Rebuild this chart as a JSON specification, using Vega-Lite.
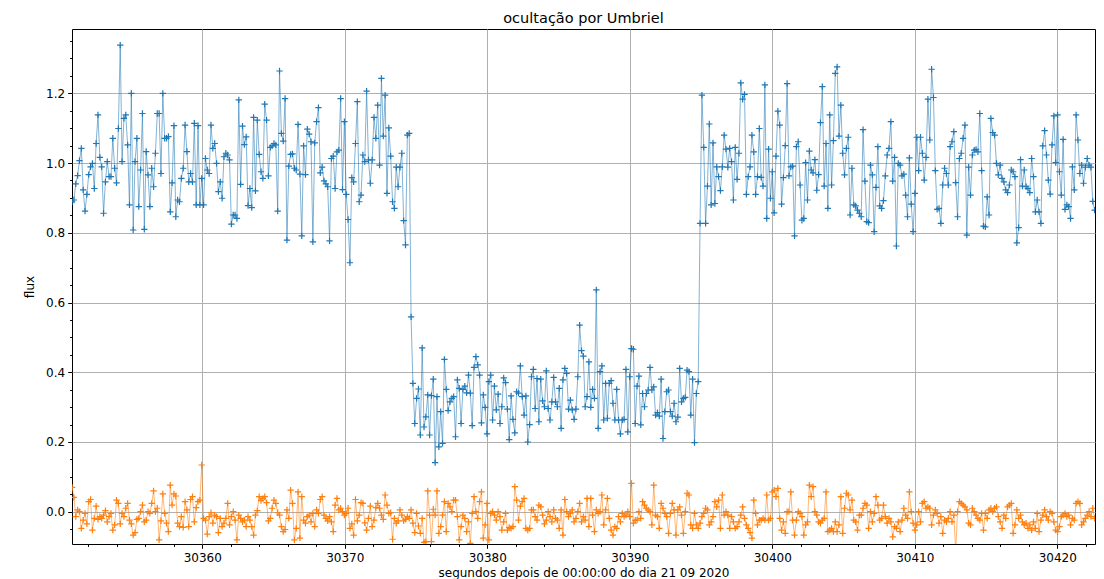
{
  "$schema": "https://vega.github.io/schema/vega-lite/v6.json",
  "width": 1023,
  "height": 515,
  "autosize": {"type": "none"},
  "padding": {"left": 72, "top": 29, "right": 9, "bottom": 35},
  "background": "#ffffff",
  "title": {"text": "ocultação por Umbriel", "font": "DejaVu Sans", "fontSize": 14.5, "fontWeight": "normal", "color": "#000000", "offset": 3, "anchor": "middle"},
  "config": {
    "view": {"stroke": "#000000", "strokeWidth": 1},
    "axis": {"labelFont": "DejaVu Sans", "titleFont": "DejaVu Sans", "labelFontSize": 12, "titleFontSize": 12, "labelColor": "#000000", "titleColor": "#000000", "titleFontWeight": "normal", "tickColor": "#000000", "tickWidth": 1, "domain": false, "gridColor": "#b0b0b0", "gridWidth": 1, "gridOpacity": 1}
  },
  "data": {"values": [
    {"t":30350.86,"b":0.889,"o":0.07},{"t":30350.99,"b":0.894,"o":0.041},{"t":30351.12,"b":0.94,"o":-0.014},{"t":30351.25,"b":0.964,"o":0.005},{"t":30351.38,"b":1.007,"o":0},{"t":30351.51,"b":1.042,"o":-0.048},{"t":30351.64,"b":0.923,"o":-0.024},{"t":30351.77,"b":0.862,"o":-0.005},{"t":30351.90,"b":0.91,"o":-0.035},{"t":30352.03,"b":0.967,"o":0.029},
    {"t":30352.16,"b":0.989,"o":0.035},{"t":30352.29,"b":0.999,"o":-0.053},{"t":30352.42,"b":0.927,"o":-0.019},{"t":30352.55,"b":1.056,"o":0.016},{"t":30352.68,"b":1.138,"o":-0.022},{"t":30352.81,"b":1.016,"o":-0.014},{"t":30352.94,"b":0.989,"o":-0.019},{"t":30353.07,"b":0.856,"o":-0.01},{"t":30353.20,"b":0.946,"o":0.003},{"t":30353.33,"b":1.004,"o":-0.029},
    {"t":30353.46,"b":0.961,"o":-0.014},{"t":30353.59,"b":0.961,"o":-0.005},{"t":30353.72,"b":1.071,"o":-0.053},{"t":30353.85,"b":0.985,"o":-0.038},{"t":30353.98,"b":0.943,"o":0.033},{"t":30354.11,"b":1.099,"o":0.024},{"t":30354.24,"b":1.338,"o":-0.035},{"t":30354.37,"b":1.004,"o":-0.005},{"t":30354.50,"b":1.128,"o":-0.014},{"t":30354.63,"b":1.138,"o":0.01},
    {"t":30354.76,"b":1.052,"o":0.024},{"t":30354.89,"b":0.88,"o":-0.024},{"t":30355.02,"b":1.2,"o":-0.035},{"t":30355.15,"b":0.808,"o":-0.067},{"t":30355.28,"b":1.004,"o":-0.06},{"t":30355.41,"b":1.071,"o":-0.022},{"t":30355.54,"b":0.875,"o":-0.019},{"t":30355.67,"b":0.98,"o":0},{"t":30355.80,"b":1.142,"o":0.019},{"t":30355.93,"b":0.81,"o":-0.029},
    {"t":30356.06,"b":1.033,"o":-0.024},{"t":30356.19,"b":0.966,"o":0},{"t":30356.32,"b":0.875,"o":-0.005},{"t":30356.45,"b":0.985,"o":0.024},{"t":30356.58,"b":0.932,"o":0.06},{"t":30356.71,"b":1.028,"o":0},{"t":30356.84,"b":1.142,"o":0.01},{"t":30356.97,"b":1.142,"o":-0.081},{"t":30357.10,"b":0.97,"o":-0.026},{"t":30357.23,"b":1.2,"o":0.051},
    {"t":30357.36,"b":1.071,"o":-0.005},{"t":30357.49,"b":1.071,"o":-0.033},{"t":30357.62,"b":1.076,"o":-0.057},{"t":30357.75,"b":0.86,"o":0.076},{"t":30357.88,"b":0.943,"o":0.019},{"t":30358.01,"b":1.107,"o":0.051},{"t":30358.14,"b":0.846,"o":0.045},{"t":30358.27,"b":0.894,"o":-0.033},{"t":30358.40,"b":0.889,"o":-0.043},{"t":30358.53,"b":0.956,"o":-0.014},
    {"t":30358.66,"b":0.985,"o":-0.045},{"t":30358.79,"b":1.109,"o":0.029},{"t":30358.92,"b":1.033,"o":0.005},{"t":30359.05,"b":0.946,"o":-0.043},{"t":30359.18,"b":0.97,"o":0.035},{"t":30359.31,"b":0.946,"o":0.043},{"t":30359.44,"b":1.114,"o":-0.029},{"t":30359.57,"b":0.88,"o":0.012},{"t":30359.70,"b":1.107,"o":0.029},{"t":30359.83,"b":0.88,"o":0.033},
    {"t":30359.96,"b":0.956,"o":0.134},{"t":30360.09,"b":0.88,"o":-0.019},{"t":30360.22,"b":1.013,"o":-0.024},{"t":30360.35,"b":0.98,"o":-0.064},{"t":30360.48,"b":0.97,"o":-0.014},{"t":30360.61,"b":1.109,"o":-0.003},{"t":30360.74,"b":1.042,"o":-0.033},{"t":30360.87,"b":1.056,"o":-0.01},{"t":30361.00,"b":0.999,"o":-0.014},{"t":30361.13,"b":0.918,"o":-0.06},
    {"t":30361.26,"b":0.946,"o":-0.019},{"t":30361.39,"b":0.899,"o":-0.043},{"t":30361.52,"b":1.018,"o":-0.033},{"t":30361.65,"b":1.028,"o":-0.019},{"t":30361.78,"b":1.023,"o":0.024},{"t":30361.91,"b":1.009,"o":-0.038},{"t":30362.04,"b":0.825,"o":-0.014},{"t":30362.17,"b":0.851,"o":0},{"t":30362.30,"b":0.851,"o":-0.024},{"t":30362.43,"b":0.841,"o":-0.081},
    {"t":30362.56,"b":1.181,"o":-0.01},{"t":30362.69,"b":0.939,"o":-0.019},{"t":30362.82,"b":1.106,"o":-0.029},{"t":30362.95,"b":1.053,"o":-0.024},{"t":30363.08,"b":1.075,"o":-0.043},{"t":30363.21,"b":0.878,"o":-0.014},{"t":30363.34,"b":0.927,"o":-0.024},{"t":30363.47,"b":0.872,"o":-0.043},{"t":30363.60,"b":1.131,"o":-0.067},{"t":30363.73,"b":0.92,"o":-0.01},
    {"t":30363.86,"b":1.123,"o":0.003},{"t":30363.99,"b":1.025,"o":0.043},{"t":30364.12,"b":0.975,"o":0.032},{"t":30364.25,"b":0.956,"o":0.038},{"t":30364.38,"b":1.169,"o":0.043},{"t":30364.51,"b":1.123,"o":0.026},{"t":30364.64,"b":0.963,"o":-0.026},{"t":30364.77,"b":1.045,"o":-0.019},{"t":30364.90,"b":1.049,"o":0.01},{"t":30365.03,"b":1.056,"o":0.033},
    {"t":30365.16,"b":1.052,"o":0.024},{"t":30365.29,"b":0.862,"o":-0.003},{"t":30365.42,"b":1.264,"o":-0.01},{"t":30365.55,"b":1.085,"o":-0.043},{"t":30365.68,"b":1.063,"o":-0.057},{"t":30365.81,"b":1.185,"o":-0.051},{"t":30365.94,"b":0.779,"o":0.005},{"t":30366.07,"b":0.991,"o":-0.019},{"t":30366.20,"b":1.025,"o":0.062},{"t":30366.33,"b":1.026,"o":0.024},
    {"t":30366.46,"b":0.985,"o":-0.081},{"t":30366.59,"b":0.98,"o":-0.048},{"t":30366.72,"b":1.111,"o":0.057},{"t":30366.85,"b":0.968,"o":-0.076},{"t":30366.98,"b":0.791,"o":0.043},{"t":30367.11,"b":1.049,"o":-0.024},{"t":30367.24,"b":0.967,"o":-0.033},{"t":30367.37,"b":1.097,"o":-0.014},{"t":30367.50,"b":1.083,"o":-0.01},{"t":30367.63,"b":1.061,"o":-0.029},
    {"t":30367.76,"b":0.774,"o":-0.005},{"t":30367.89,"b":1.058,"o":-0.043},{"t":30368.02,"b":1.119,"o":0.005},{"t":30368.15,"b":1.159,"o":-0.005},{"t":30368.28,"b":0.972,"o":0.035},{"t":30368.41,"b":0.988,"o":0.043},{"t":30368.54,"b":0.949,"o":-0.01},{"t":30368.67,"b":0.94,"o":-0.019},{"t":30368.80,"b":0.932,"o":-0.026},{"t":30368.93,"b":0.777,"o":-0.014},
    {"t":30369.06,"b":1.013,"o":-0.029},{"t":30369.19,"b":1.02,"o":-0.057},{"t":30369.32,"b":0.927,"o":0.019},{"t":30369.45,"b":1.032,"o":0.038},{"t":30369.58,"b":1.037,"o":0.005},{"t":30369.71,"b":1.185,"o":0.01},{"t":30369.84,"b":0.924,"o":0},{"t":30369.97,"b":1.119,"o":-0.01},{"t":30370.10,"b":0.91,"o":-0.005},{"t":30370.23,"b":0.838,"o":0.01},
    {"t":30370.36,"b":0.714,"o":-0.048},{"t":30370.49,"b":0.958,"o":-0.035},{"t":30370.62,"b":0.946,"o":-0.067},{"t":30370.75,"b":1.056,"o":0.035},{"t":30370.88,"b":1.176,"o":-0.026},{"t":30371.01,"b":0.889,"o":-0.01},{"t":30371.14,"b":0.908,"o":0.026},{"t":30371.27,"b":1.023,"o":0.024},{"t":30371.40,"b":1.004,"o":-0.032},{"t":30371.53,"b":1.206,"o":-0.053},
    {"t":30371.66,"b":1.009,"o":-0.019},{"t":30371.79,"b":0.942,"o":0.016},{"t":30371.92,"b":1.009,"o":-0.043},{"t":30372.05,"b":1.131,"o":-0.024},{"t":30372.18,"b":1.071,"o":0.012},{"t":30372.31,"b":1.166,"o":0.024},{"t":30372.44,"b":0.994,"o":0.01},{"t":30372.57,"b":1.243,"o":-0.01},{"t":30372.70,"b":1.077,"o":-0.022},{"t":30372.83,"b":1.195,"o":0.048},
    {"t":30372.96,"b":0.913,"o":0.019},{"t":30373.09,"b":1.101,"o":-0.005},{"t":30373.22,"b":1.02,"o":-0.003},{"t":30373.35,"b":0.889,"o":-0.079},{"t":30373.48,"b":0.87,"o":-0.019},{"t":30373.61,"b":0.988,"o":-0.033},{"t":30373.74,"b":0.932,"o":-0.026},{"t":30373.87,"b":0.988,"o":0.005},{"t":30374.00,"b":1.028,"o":-0.01},{"t":30374.13,"b":0.835,"o":-0.026},
    {"t":30374.26,"b":0.765,"o":-0.022},{"t":30374.39,"b":1.08,"o":-0.014},{"t":30374.52,"b":1.085,"o":-0.019},{"t":30374.65,"b":0.559,"o":0.005},{"t":30374.78,"b":0.368,"o":-0.033},{"t":30374.91,"b":0.253,"o":-0.06},{"t":30375.04,"b":0.325,"o":-0.005},{"t":30375.17,"b":0.352,"o":-0.041},{"t":30375.30,"b":0.22,"o":-0.062},{"t":30375.43,"b":0.47,"o":-0.019},
    {"t":30375.56,"b":0.243,"o":-0.088},{"t":30375.69,"b":0.272,"o":-0.086},{"t":30375.82,"b":0.335,"o":0.06},{"t":30375.95,"b":0.22,"o":-0.01},{"t":30376.08,"b":0.333,"o":-0.086},{"t":30376.21,"b":0.38,"o":0.007},{"t":30376.34,"b":0.141,"o":-0.01},{"t":30376.47,"b":0.33,"o":0.06},{"t":30376.60,"b":0.186,"o":-0.062},{"t":30376.73,"b":0.287,"o":-0.043},
    {"t":30376.86,"b":0.196,"o":-0.01},{"t":30376.99,"b":0.437,"o":0.029},{"t":30377.12,"b":0.351,"o":-0.057},{"t":30377.25,"b":0.29,"o":0.024},{"t":30377.38,"b":0.315,"o":0.014},{"t":30377.51,"b":0.325,"o":0},{"t":30377.64,"b":0.33,"o":0.033},{"t":30377.77,"b":0.215,"o":0.033},{"t":30377.90,"b":0.378,"o":-0.014},{"t":30378.03,"b":0.354,"o":-0.081},
    {"t":30378.16,"b":0.253,"o":-0.043},{"t":30378.29,"b":0.351,"o":-0.01},{"t":30378.42,"b":0.36,"o":-0.019},{"t":30378.55,"b":0.341,"o":-0.057},{"t":30378.68,"b":0.392,"o":-0.029},{"t":30378.81,"b":0.34,"o":-0.091},{"t":30378.94,"b":0.247,"o":-0.005},{"t":30379.07,"b":0.414,"o":0.043},{"t":30379.20,"b":0.445,"o":0},{"t":30379.33,"b":0.421,"o":-0.019},
    {"t":30379.46,"b":0.392,"o":0.029},{"t":30379.59,"b":0.255,"o":0.057},{"t":30379.72,"b":0.335,"o":-0.076},{"t":30379.85,"b":0.299,"o":-0.038},{"t":30379.98,"b":0.223,"o":0.024},{"t":30380.11,"b":0.373,"o":-0.081},{"t":30380.24,"b":0.392,"o":-0.005},{"t":30380.37,"b":0.263,"o":0},{"t":30380.50,"b":0.36,"o":-0.01},{"t":30380.63,"b":0.292,"o":-0.024},
    {"t":30380.76,"b":0.337,"o":0},{"t":30380.89,"b":0.253,"o":-0.014},{"t":30381.02,"b":0.301,"o":-0.053},{"t":30381.15,"b":0.384,"o":-0.029},{"t":30381.28,"b":0.37,"o":-0.005},{"t":30381.41,"b":0.294,"o":-0.053},{"t":30381.54,"b":0.207,"o":-0.045},{"t":30381.67,"b":0.332,"o":-0.048},{"t":30381.80,"b":0.265,"o":-0.043},{"t":30381.93,"b":0.226,"o":0.072},
    {"t":30382.06,"b":0.344,"o":0.033},{"t":30382.19,"b":0.34,"o":-0.024},{"t":30382.32,"b":0.418,"o":0.016},{"t":30382.45,"b":0.33,"o":0.029},{"t":30382.58,"b":0.277,"o":0.038},{"t":30382.71,"b":0.332,"o":-0.048},{"t":30382.84,"b":0.2,"o":-0.053},{"t":30382.97,"b":0.25,"o":-0.048},{"t":30383.10,"b":0.387,"o":0.005},{"t":30383.23,"b":0.408,"o":0.005},
    {"t":30383.36,"b":0.296,"o":-0.014},{"t":30383.49,"b":0.382,"o":-0.024},{"t":30383.62,"b":0.258,"o":0.019},{"t":30383.75,"b":0.38,"o":0.014},{"t":30383.88,"b":0.318,"o":-0.01},{"t":30384.01,"b":0.301,"o":-0.035},{"t":30384.14,"b":0.404,"o":-0.024},{"t":30384.27,"b":0.296,"o":0},{"t":30384.40,"b":0.263,"o":-0.014},{"t":30384.53,"b":0.315,"o":-0.029},
    {"t":30384.66,"b":0.385,"o":0.005},{"t":30384.79,"b":0.315,"o":-0.019},{"t":30384.92,"b":0.301,"o":-0.024},{"t":30385.05,"b":0.354,"o":-0.048},{"t":30385.18,"b":0.239,"o":0.005},{"t":30385.31,"b":0.378,"o":-0.067},{"t":30385.44,"b":0.411,"o":0.035},{"t":30385.57,"b":0.397,"o":0},{"t":30385.70,"b":0.294,"o":-0.014},{"t":30385.83,"b":0.32,"o":-0.005},
    {"t":30385.96,"b":0.292,"o":0.005},{"t":30386.09,"b":0.265,"o":-0.029},{"t":30386.22,"b":0.294,"o":-0.019},{"t":30386.35,"b":0.387,"o":0},{"t":30386.48,"b":0.535,"o":0.024},{"t":30386.61,"b":0.462,"o":-0.029},{"t":30386.74,"b":0.446,"o":-0.014},{"t":30386.87,"b":0.301,"o":-0.024},{"t":30387.00,"b":0.33,"o":0.038},{"t":30387.13,"b":0.43,"o":-0.043},
    {"t":30387.26,"b":0.299,"o":0.038},{"t":30387.39,"b":0.351,"o":-0.01},{"t":30387.52,"b":0.325,"o":-0.057},{"t":30387.65,"b":0.636,"o":0.005},{"t":30387.78,"b":0.239,"o":-0.005},{"t":30387.91,"b":0.402,"o":0},{"t":30388.04,"b":0.418,"o":0.048},{"t":30388.17,"b":0.263,"o":-0.038},{"t":30388.30,"b":0.368,"o":0.005},{"t":30388.43,"b":0.268,"o":0.038},
    {"t":30388.56,"b":0.368,"o":-0.019},{"t":30388.69,"b":0.376,"o":-0.053},{"t":30388.82,"b":0.311,"o":-0.067},{"t":30388.95,"b":0.263,"o":-0.043},{"t":30389.08,"b":0.351,"o":-0.048},{"t":30389.21,"b":0.263,"o":-0.014},{"t":30389.34,"b":0.223,"o":-0.029},{"t":30389.47,"b":0.263,"o":-0.005},{"t":30389.60,"b":0.265,"o":-0.014},{"t":30389.73,"b":0.408,"o":-0.01},
    {"t":30389.86,"b":0.229,"o":0},{"t":30389.99,"b":0.387,"o":-0.014},{"t":30390.12,"b":0.468,"o":0.081},{"t":30390.25,"b":0.466,"o":-0.033},{"t":30390.38,"b":0.253,"o":-0.024},{"t":30390.51,"b":0.36,"o":-0.024},{"t":30390.64,"b":0.389,"o":0},{"t":30390.77,"b":0.249,"o":-0.019},{"t":30390.90,"b":0.339,"o":0.029},{"t":30391.03,"b":0.301,"o":0.019},
    {"t":30391.16,"b":0.339,"o":0.01},{"t":30391.29,"b":0.349,"o":0.005},{"t":30391.42,"b":0.414,"o":0},{"t":30391.55,"b":0.349,"o":-0.038},{"t":30391.68,"b":0.358,"o":0.076},{"t":30391.81,"b":0.277,"o":-0.01},{"t":30391.94,"b":0.284,"o":-0.014},{"t":30392.07,"b":0.274,"o":-0.048},{"t":30392.20,"b":0.38,"o":0.024},{"t":30392.33,"b":0.21,"o":0.01},
    {"t":30392.46,"b":0.287,"o":-0.005},{"t":30392.59,"b":0.344,"o":-0.014},{"t":30392.72,"b":0.349,"o":-0.062},{"t":30392.85,"b":0.287,"o":-0.005},{"t":30392.98,"b":0.274,"o":0.024},{"t":30393.11,"b":0.311,"o":0.005},{"t":30393.24,"b":0.258,"o":-0.067},{"t":30393.37,"b":0.271,"o":0.005},{"t":30393.50,"b":0.411,"o":0.014},{"t":30393.63,"b":0.315,"o":-0.01},
    {"t":30393.76,"b":0.325,"o":-0.062},{"t":30393.89,"b":0.328,"o":0},{"t":30394.02,"b":0.406,"o":0.053},{"t":30394.15,"b":0.402,"o":0.048},{"t":30394.28,"b":0.277,"o":-0.038},{"t":30394.41,"b":0.38,"o":-0.048},{"t":30394.54,"b":0.198,"o":-0.005},{"t":30394.67,"b":0.339,"o":-0.038},{"t":30394.80,"b":0.373,"o":-0.048},{"t":30394.93,"b":0.827,"o":-0.033},
    {"t":30395.06,"b":1.195,"o":-0.014},{"t":30395.19,"b":1.045,"o":-0.005},{"t":30395.32,"b":0.827,"o":0.01},{"t":30395.45,"b":0.934,"o":0.005},{"t":30395.58,"b":1.112,"o":-0.038},{"t":30395.71,"b":0.88,"o":-0.029},{"t":30395.84,"b":1.058,"o":-0.014},{"t":30395.97,"b":0.884,"o":0.029},{"t":30396.10,"b":0.989,"o":0.014},{"t":30396.23,"b":0.961,"o":0.033},
    {"t":30396.36,"b":0.921,"o":-0.048},{"t":30396.49,"b":0.989,"o":0.048},{"t":30396.62,"b":1.08,"o":-0.01},{"t":30396.75,"b":1.04,"o":0},{"t":30396.88,"b":0.988,"o":-0.01},{"t":30397.01,"b":1.042,"o":-0.048},{"t":30397.14,"b":1.004,"o":-0.014},{"t":30397.27,"b":0.894,"o":-0.029},{"t":30397.40,"b":1.045,"o":-0.048},{"t":30397.53,"b":0.953,"o":-0.043},
    {"t":30397.66,"b":1.028,"o":-0.029},{"t":30397.79,"b":1.23,"o":-0.01},{"t":30397.92,"b":1.183,"o":0.014},{"t":30398.05,"b":1.197,"o":-0.019},{"t":30398.18,"b":0.91,"o":-0.038},{"t":30398.31,"b":0.961,"o":-0.048},{"t":30398.44,"b":0.989,"o":-0.06},{"t":30398.57,"b":1.08,"o":-0.076},{"t":30398.70,"b":1.032,"o":0.033},{"t":30398.83,"b":0.91,"o":-0.005},
    {"t":30398.96,"b":0.961,"o":-0.038},{"t":30399.09,"b":1.099,"o":-0.024},{"t":30399.22,"b":0.959,"o":-0.024},{"t":30399.35,"b":0.934,"o":-0.019},{"t":30399.48,"b":1.224,"o":-0.024},{"t":30399.61,"b":0.841,"o":0.048},{"t":30399.74,"b":1.04,"o":-0.024},{"t":30399.87,"b":0.899,"o":-0.019},{"t":30400.00,"b":0.975,"o":0.057},{"t":30400.13,"b":0.857,"o":0.062},
    {"t":30400.26,"b":1.02,"o":0.043},{"t":30400.39,"b":1.149,"o":0.067},{"t":30400.52,"b":1.109,"o":-0.019},{"t":30400.65,"b":0.882,"o":-0.053},{"t":30400.78,"b":0.958,"o":-0.029},{"t":30400.91,"b":1.05,"o":-0.062},{"t":30401.04,"b":1.228,"o":0},{"t":30401.17,"b":0.963,"o":0},{"t":30401.30,"b":0.989,"o":0.057},{"t":30401.43,"b":0.991,"o":-0.024},
    {"t":30401.56,"b":0.791,"o":-0.067},{"t":30401.69,"b":1.047,"o":-0.024},{"t":30401.82,"b":1.061,"o":0},{"t":30401.95,"b":0.937,"o":-0.005},{"t":30402.08,"b":0.836,"o":-0.014},{"t":30402.21,"b":0.841,"o":-0.067},{"t":30402.34,"b":1.001,"o":-0.038},{"t":30402.47,"b":0.894,"o":-0.029},{"t":30402.60,"b":1.034,"o":0.076},{"t":30402.73,"b":0.98,"o":0.043},
    {"t":30402.86,"b":0.972,"o":0.072},{"t":30402.99,"b":1.01,"o":0},{"t":30403.12,"b":0.922,"o":-0.01},{"t":30403.25,"b":0.967,"o":-0.029},{"t":30403.38,"b":1.116,"o":-0.033},{"t":30403.51,"b":1.219,"o":-0.024},{"t":30403.64,"b":0.934,"o":-0.019},{"t":30403.77,"b":1.056,"o":0.057},{"t":30403.90,"b":0.87,"o":-0.057},{"t":30404.03,"b":1.138,"o":-0.053},
    {"t":30404.16,"b":0.937,"o":-0.048},{"t":30404.29,"b":1.064,"o":-0.057},{"t":30404.42,"b":1.257,"o":-0.029},{"t":30404.55,"b":1.276,"o":-0.057},{"t":30404.68,"b":1.077,"o":-0.038},{"t":30404.81,"b":1.166,"o":0.043},{"t":30404.94,"b":1.028,"o":-0.062},{"t":30405.07,"b":0.966,"o":0.01},{"t":30405.20,"b":1.042,"o":0.053},{"t":30405.33,"b":1.074,"o":0.048},
    {"t":30405.46,"b":0.851,"o":0.005},{"t":30405.59,"b":0.985,"o":0.033},{"t":30405.72,"b":0.88,"o":-0.024},{"t":30405.85,"b":0.877,"o":-0.029},{"t":30405.98,"b":0.865,"o":-0.053},{"t":30406.11,"b":0.856,"o":-0.01},{"t":30406.24,"b":0.846,"o":-0.01},{"t":30406.37,"b":1.096,"o":0.01},{"t":30406.50,"b":0.948,"o":0.024},{"t":30406.63,"b":0.832,"o":0.019},
    {"t":30406.76,"b":0.829,"o":-0.048},{"t":30406.89,"b":0.994,"o":0},{"t":30407.02,"b":0.966,"o":-0.029},{"t":30407.15,"b":0.803,"o":-0.005},{"t":30407.28,"b":0.93,"o":0.043},{"t":30407.41,"b":1.047,"o":0.019},{"t":30407.54,"b":0.877,"o":-0.024},{"t":30407.67,"b":0.87,"o":-0.019},{"t":30407.80,"b":0.892,"o":0.019},{"t":30407.93,"b":0.963,"o":-0.014},
    {"t":30408.06,"b":1.023,"o":-0.033},{"t":30408.19,"b":1.042,"o":-0.019},{"t":30408.32,"b":1.119,"o":-0.029},{"t":30408.45,"b":0.948,"o":-0.072},{"t":30408.58,"b":1.016,"o":-0.043},{"t":30408.71,"b":0.762,"o":-0.048},{"t":30408.84,"b":0.999,"o":-0.029},{"t":30408.97,"b":0.994,"o":-0.057},{"t":30409.10,"b":0.963,"o":-0.024},{"t":30409.23,"b":0.968,"o":0.01},
    {"t":30409.36,"b":0.908,"o":-0.01},{"t":30409.49,"b":0.846,"o":-0.019},{"t":30409.62,"b":1.015,"o":0.057},{"t":30409.75,"b":0.882,"o":0},{"t":30409.88,"b":0.803,"o":-0.033},{"t":30410.01,"b":0.913,"o":-0.053},{"t":30410.14,"b":1.074,"o":-0.038},{"t":30410.27,"b":0.978,"o":0},{"t":30410.40,"b":1.074,"o":-0.029},{"t":30410.53,"b":1.028,"o":0.024},
    {"t":30410.66,"b":0.951,"o":0.029},{"t":30410.79,"b":1.016,"o":0.01},{"t":30410.92,"b":1.183,"o":0.014},{"t":30411.05,"b":1.066,"o":0.01},{"t":30411.18,"b":1.269,"o":-0.038},{"t":30411.31,"b":1.188,"o":-0.01},{"t":30411.44,"b":0.978,"o":0.005},{"t":30411.57,"b":0.867,"o":-0.005},{"t":30411.70,"b":0.87,"o":-0.033},{"t":30411.83,"b":0.827,"o":-0.014},
    {"t":30411.96,"b":0.937,"o":-0.062},{"t":30412.09,"b":0.985,"o":-0.024},{"t":30412.22,"b":0.97,"o":-0.029},{"t":30412.35,"b":0.937,"o":-0.019},{"t":30412.48,"b":1.047,"o":0},{"t":30412.61,"b":1.061,"o":-0.029},{"t":30412.74,"b":1.09,"o":-0.01},{"t":30412.87,"b":0.944,"o":-0.115},{"t":30413.00,"b":0.846,"o":0},{"t":30413.13,"b":1.013,"o":0.029},
    {"t":30413.26,"b":1.028,"o":0.024},{"t":30413.39,"b":1.071,"o":0.019},{"t":30413.52,"b":1.109,"o":0.014},{"t":30413.65,"b":0.793,"o":0.005},{"t":30413.78,"b":0.988,"o":-0.033},{"t":30413.91,"b":0.908,"o":-0.038},{"t":30414.04,"b":1.023,"o":0.01},{"t":30414.17,"b":1.037,"o":0},{"t":30414.30,"b":1.039,"o":-0.01},{"t":30414.43,"b":1.032,"o":-0.019},
    {"t":30414.56,"b":1.142,"o":-0.024},{"t":30414.69,"b":0.978,"o":-0.005},{"t":30414.82,"b":0.819,"o":-0.053},{"t":30414.95,"b":0.817,"o":-0.005},{"t":30415.08,"b":0.903,"o":-0.019},{"t":30415.21,"b":0.851,"o":0.005},{"t":30415.34,"b":1.128,"o":0.01},{"t":30415.47,"b":1.087,"o":0},{"t":30415.60,"b":1.08,"o":0.01},{"t":30415.73,"b":0.999,"o":0.014},
    {"t":30415.86,"b":0.966,"o":-0.014},{"t":30415.99,"b":0.994,"o":-0.029},{"t":30416.12,"b":0.956,"o":-0.048},{"t":30416.25,"b":0.946,"o":-0.01},{"t":30416.38,"b":0.923,"o":-0.019},{"t":30416.51,"b":0.915,"o":0.014},{"t":30416.64,"b":0.937,"o":0.019},{"t":30416.77,"b":0.98,"o":0.024},{"t":30416.90,"b":0.975,"o":-0.062},{"t":30417.03,"b":0.961,"o":-0.038},
    {"t":30417.16,"b":0.771,"o":0.005},{"t":30417.29,"b":0.815,"o":-0.019},{"t":30417.42,"b":1.01,"o":-0.01},{"t":30417.55,"b":0.934,"o":-0.029},{"t":30417.68,"b":0.98,"o":-0.038},{"t":30417.81,"b":0.932,"o":-0.033},{"t":30417.94,"b":0.927,"o":-0.048},{"t":30418.07,"b":0.915,"o":-0.038},{"t":30418.20,"b":1.013,"o":-0.053},{"t":30418.33,"b":0.961,"o":-0.029},
    {"t":30418.46,"b":0.86,"o":-0.048},{"t":30418.59,"b":0.894,"o":-0.005},{"t":30418.72,"b":0.86,"o":-0.057},{"t":30418.85,"b":0.827,"o":-0.024},{"t":30418.98,"b":1.049,"o":-0.01},{"t":30419.11,"b":1.093,"o":0.005},{"t":30419.24,"b":1.023,"o":-0.014},{"t":30419.37,"b":0.951,"o":-0.024},{"t":30419.50,"b":0.911,"o":0},{"t":30419.63,"b":1.052,"o":-0.005},
    {"t":30419.76,"b":1.135,"o":-0.029},{"t":30419.89,"b":1.001,"o":-0.053},{"t":30420.02,"b":1.138,"o":-0.057},{"t":30420.15,"b":0.975,"o":-0.043},{"t":30420.28,"b":0.908,"o":-0.014},{"t":30420.41,"b":1.068,"o":-0.01},{"t":30420.54,"b":0.867,"o":-0.005},{"t":30420.67,"b":0.88,"o":-0.014},{"t":30420.80,"b":0.875,"o":-0.01},{"t":30420.93,"b":0.841,"o":-0.038},
    {"t":30421.06,"b":0.989,"o":-0.019},{"t":30421.19,"b":0.923,"o":-0.024},{"t":30421.32,"b":1.138,"o":0.024},{"t":30421.45,"b":1.066,"o":0.029},{"t":30421.58,"b":0.97,"o":0.024},{"t":30421.71,"b":0.994,"o":-0.038},{"t":30421.84,"b":0.942,"o":-0.029},{"t":30421.97,"b":0.988,"o":-0.019},{"t":30422.10,"b":1.013,"o":-0.01},{"t":30422.23,"b":0.994,"o":0},
    {"t":30422.36,"b":0.988,"o":-0.014},{"t":30422.49,"b":0.89,"o":0.01},{"t":30422.62,"b":0.865,"o":-0.019}
  ]},
  "transform": [{"fold": ["b", "o"], "as": ["serie", "flux"]}],
  "encoding": {
    "color": {"field": "serie", "type": "nominal", "scale": {"domain": ["b", "o"], "range": ["#1f77b4", "#ff7f0e"]}, "legend": null}
  },
  "layer": [
    {
      "mark": {"type": "line", "clip": true, "strokeWidth": 0.8, "opacity": 0.7},
      "encoding": {
        "x": {"field": "t", "type": "quantitative", "scale": {"domain": [30350.856, 30422.646], "nice": false, "zero": false},
              "axis": {"orient": "bottom", "values": [30360, 30370, 30380, 30390, 30400, 30410, 30420], "format": "d", "grid": true, "tickSize": 4.3, "labelPadding": 4, "labelFlush": false, "title": "segundos depois de 00:00:00 do dia 21 09 2020", "titlePadding": 4}},
        "y": {"field": "flux", "type": "quantitative", "scale": {"domain": [-0.0926, 1.3844], "nice": false, "zero": false},
              "axis": {"orient": "left", "values": [0, 0.2, 0.4, 0.6, 0.8, 1.0, 1.2], "format": ".1f", "grid": true, "tickSize": 4.3, "labelPadding": 3, "title": "flux", "titlePadding": 9}},
        "detail": {"field": "serie"}
      }
    },
    {
      "mark": {"type": "point", "clip": true, "shape": "M-1,0H1M0,-1V1", "size": 40, "filled": false, "strokeWidth": 1.2, "opacity": 1},
      "encoding": {
        "x": {"field": "t", "type": "quantitative", "scale": {"domain": [30350.856, 30422.646], "nice": false, "zero": false}, "axis": null},
        "y": {"field": "flux", "type": "quantitative", "scale": {"domain": [-0.0926, 1.3844], "nice": false, "zero": false}, "axis": null}
      }
    },
    {
      "mark": {"type": "point", "opacity": 0},
      "encoding": {
        "x": {"field": "t", "type": "quantitative", "scale": {"domain": [30350.856, 30422.646], "nice": false, "zero": false},
              "axis": {"orient": "bottom", "values": [30352, 30354, 30356, 30358, 30362, 30364, 30366, 30368, 30372, 30374, 30376, 30378, 30382, 30384, 30386, 30388, 30392, 30394, 30396, 30398, 30402, 30404, 30406, 30408, 30412, 30414, 30416, 30418, 30422], "labels": false, "grid": false, "tickSize": 2.4, "title": null}},
        "y": {"field": "flux", "type": "quantitative", "scale": {"domain": [-0.0926, 1.3844], "nice": false, "zero": false},
              "axis": {"orient": "left", "values": [-0.05, 0.05, 0.1, 0.15, 0.25, 0.3, 0.35, 0.45, 0.5, 0.55, 0.65, 0.7, 0.75, 0.85, 0.9, 0.95, 1.05, 1.1, 1.15, 1.25, 1.3, 1.35], "labels": false, "grid": false, "tickSize": 2.4, "title": null}}
      }
    }
  ],
  "resolve": {"axis": {"x": "independent", "y": "independent"}}
}
